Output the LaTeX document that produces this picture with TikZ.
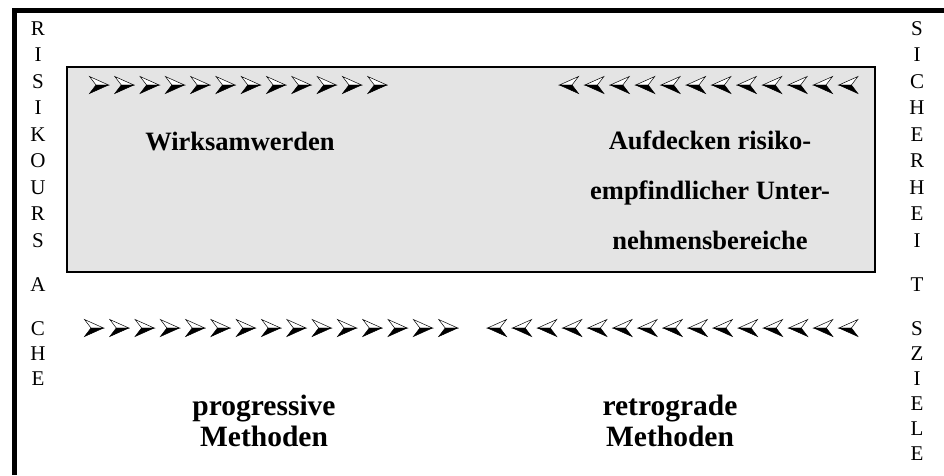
\documentclass[tikz,border=0pt]{standalone}
\usepackage{fontspec}
\setmainfont{Liberation Serif}
\begin{document}
\begin{tikzpicture}[x=1pt,y=-1pt,
  letter/.style={font=\fontsize{21}{21}\selectfont,inner sep=0pt,anchor=base},
  boxtext/.style={font=\fontsize{26.5}{26.5}\selectfont\bfseries,inner sep=0pt,anchor=base},
  bigtext/.style={font=\fontsize{29.5}{31}\selectfont\bfseries,inner sep=0pt,align=center,anchor=center},
  framebar/.style={line width=5pt},
  graybox/.style={draw=black,line width=2.5pt,fill=black!10.5,inner sep=0pt,minimum width=808pt,minimum height=205pt},
  rah/.pic={
    \filldraw[fill=white,draw=black,line width=0.5pt,line join=miter] (-9.5,-8.5) -- (9.5,0) -- (-3,0) -- cycle;
    \filldraw[fill=black,draw=black,line width=0.5pt,line join=miter] (-3,0) -- (9.5,0) -- (-9.5,8.5) -- cycle;
  },
  lah/.pic={
    \filldraw[fill=white,draw=black,line width=0.5pt,line join=miter] (9.5,-8.5) -- (-9.5,0) -- (3,0) -- cycle;
    \filldraw[fill=black,draw=black,line width=0.5pt,line join=miter] (3,0) -- (-9.5,0) -- (9.5,8.5) -- cycle;
  }]
\useasboundingbox (0,0) rectangle (944,475);
% frame
\coordinate (fTL) at (14,10.5);
\coordinate (fBL) at (14,475);
\coordinate (fTR) at (944,10.5);
\draw[framebar] (fBL) -- (fTL) -- (fTR);
% gray box
\node[graybox] (box) at (471,169.5) {};
% left letters
\foreach \ch [count=\k from 0] in {R,I,S,I,K,O,U,R,S}
  \node[letter] (L\k) at (38,{28+26.5*\k+7}) {\ch};
\node[letter] (LA) at (38,291) {A};
\node[letter] (LC) at (38,335) {C};
\node[letter] (LH) at (38,360) {H};
\node[letter] (LE) at (38,385) {E};
% right letters
\foreach \ch [count=\k from 0] in {S,I,C,H,E,R,H,E,I}
  \node[letter] (R\k) at (917,{28+26.5*\k+7}) {\ch};
\node[letter] (RT) at (917,291) {T};
\foreach \ch [count=\k from 0] in {S,Z,I,E,L,E}
  \node[letter] (RS\k) at (917,{335+25*\k}) {\ch};
% arrow rows
\foreach \i in {0,...,11} \pic at ({99+25.3*\i},85) {rah};
\foreach \i in {0,...,11} \pic at ({569+25.4*\i},85) {lah};
\foreach \i in {0,...,14} \pic at ({94+25.3*\i},328) {rah};
\foreach \i in {0,...,14} \pic at ({497+25.1*\i},328) {lah};
% texts in box
\node[boxtext] (wirk) at (240,150) {Wirksamwerden};
\node[boxtext] (auf1) at (710,149) {Aufdecken risiko-};
\node[boxtext] (auf2) at (710,199) {empfindlicher Unter-};
\node[boxtext] (auf3) at (710,249) {nehmensbereiche};
% bottom texts
\node[bigtext] (prog) at (264,421) {progressive\\Methoden};
\node[bigtext] (retro) at (670,421) {retrograde\\Methoden};
\end{tikzpicture}
\end{document}
